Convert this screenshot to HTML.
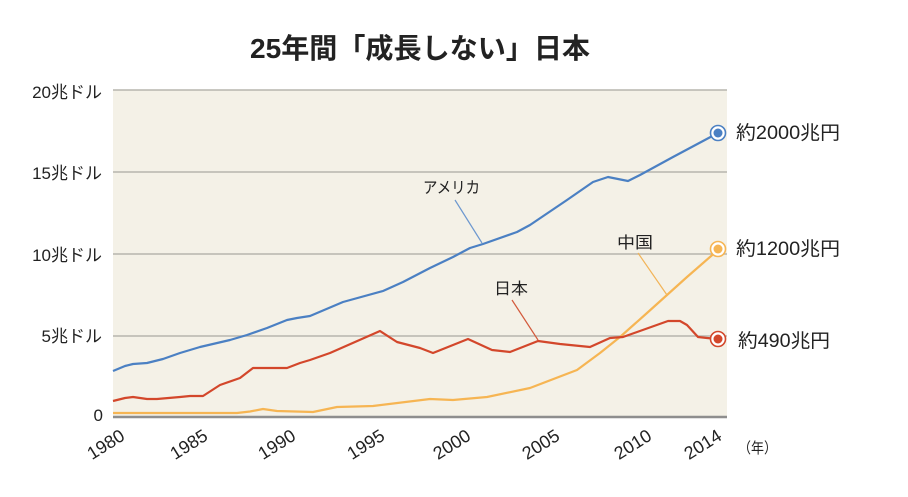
<!DOCTYPE html>
<html><head><meta charset="utf-8">
<style>
html,body{margin:0;padding:0;background:#fff;}
svg{display:block;}
text{font-family:"Liberation Sans","Noto Sans CJK JP",sans-serif;fill:#222;}
</style></head>
<body>
<svg width="908" height="497" viewBox="0 0 908 497" xmlns="http://www.w3.org/2000/svg">
<rect x="0" y="0" width="908" height="497" fill="#fff"/>
<!-- title -->
<text x="250" y="58" font-size="28" font-weight="bold" textLength="340" lengthAdjust="spacingAndGlyphs">25年間「成長しない」日本</text>
<!-- plot bg -->
<rect x="113" y="90" width="614" height="328" fill="#f4f1e7"/>
<g stroke="#b7b5ae" stroke-width="1.5">
<line x1="113" y1="90" x2="727" y2="90"/>
<line x1="113" y1="172" x2="727" y2="172"/>
<line x1="113" y1="254" x2="727" y2="254"/>
<line x1="113" y1="336" x2="727" y2="336"/>
</g>
<line x1="113" y1="417" x2="727" y2="417" stroke="#8e8e8e" stroke-width="2.5"/>
<!-- y labels -->
<g font-size="17" text-anchor="end">
<text x="102" y="98">20兆ドル</text>
<text x="102" y="179">15兆ドル</text>
<text x="102" y="261">10兆ドル</text>
<text x="102" y="342">5兆ドル</text>
<text x="103" y="421">0</text>
</g>
<!-- x labels -->
<g font-size="18" text-anchor="end">
<text transform="translate(126,439) rotate(-32)">1980</text>
<text transform="translate(209,439) rotate(-32)">1985</text>
<text transform="translate(297,439) rotate(-32)">1990</text>
<text transform="translate(386,439) rotate(-32)">1995</text>
<text transform="translate(472,439) rotate(-32)">2000</text>
<text transform="translate(561,439) rotate(-32)">2005</text>
<text transform="translate(653,439) rotate(-32)">2010</text>
<text transform="translate(723,439) rotate(-32)">2014</text>
</g>
<text x="738" y="453" font-size="15" textLength="39" lengthAdjust="spacingAndGlyphs">（年）</text>
<!-- leader lines -->
<line x1="455" y1="200" x2="482" y2="243" stroke="#6d98cf" stroke-width="1.2"/>
<line x1="638" y1="253" x2="667" y2="295" stroke="#f2b458" stroke-width="1.2"/>
<line x1="512" y1="300" x2="538" y2="340" stroke="#d35a3c" stroke-width="1.2"/>
<!-- series -->
<polyline fill="none" stroke="#f6b553" stroke-width="2.2" stroke-linejoin="round" points="113,413 237,413 250,411.5 263,409 277,411 313,412 337,407 373,406 430,399 453,400 487,397 530,388 577,370 600,353 620,337 647,313 667,295 687,277 718,250"/>
<polyline fill="none" stroke="#d3472b" stroke-width="2.2" stroke-linejoin="round" points="113,401 125,398 133,397 147,399 157,399 180,397 190,396 203,396 220,385 240,378 253,368 287,368 300,363 310,360 330,353 380,331 397,342 420,348 433,353 468,339 492,350 510,352 538,341 560,344 590,347 610,338 623,337 668,321 680,321 687,325 698,337 707,338 718,339"/>
<polyline fill="none" stroke="#4b80c3" stroke-width="2.2" stroke-linejoin="round" points="113,371 125,366 133,364 147,363 163,359 180,353 200,347 230,340 247,335 267,328 287,320 297,318 310,316 343,302 383,291 403,282 430,268 453,257 470,248 483,244 517,232 530,225 567,200 593,182 608,177 613,178 628,181 640,175 673,157 718,133"/>
<!-- markers -->
<circle cx="718" cy="133" r="7.5" fill="#fff" stroke="#4b80c3" stroke-width="1.6"/>
<circle cx="718" cy="133" r="4.5" fill="#4b80c3"/>
<circle cx="718" cy="249" r="7.5" fill="#fff" stroke="#f6b553" stroke-width="1.6"/>
<circle cx="718" cy="249" r="4.5" fill="#f6b553"/>
<circle cx="718" cy="339" r="7.5" fill="#fff" stroke="#d3472b" stroke-width="1.6"/>
<circle cx="718" cy="339" r="4.5" fill="#d3472b"/>
<!-- annotations -->
<g font-size="16">
<text x="423" y="193" textLength="57" lengthAdjust="spacingAndGlyphs">アメリカ</text>
<text x="617" y="248" textLength="36" lengthAdjust="spacingAndGlyphs">中国</text>
<text x="494" y="294" textLength="34" lengthAdjust="spacingAndGlyphs">日本</text>
</g>
<g font-size="19">
<text x="736" y="139" textLength="104" lengthAdjust="spacingAndGlyphs">約2000兆円</text>
<text x="736" y="255" textLength="104" lengthAdjust="spacingAndGlyphs">約1200兆円</text>
<text x="738" y="347" textLength="92" lengthAdjust="spacingAndGlyphs">約490兆円</text>
</g>
</svg>
</body></html>
